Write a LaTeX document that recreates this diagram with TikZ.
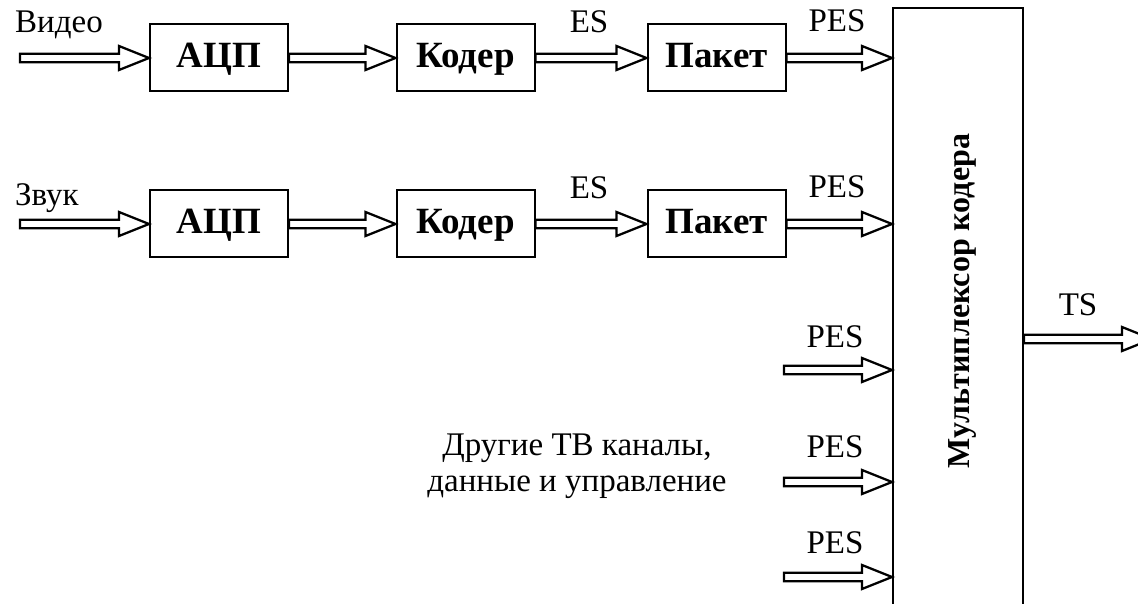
\documentclass[tikz,border=0pt]{standalone}
\usepackage{fontspec}
\setmainfont{Liberation Serif}
\usetikzlibrary{calc}

\tikzset{
  blockbox/.style={draw, line width=2pt, minimum width=138pt, minimum height=67pt,
    inner sep=0pt, text height=26pt, text depth=7pt, font=\bfseries\fontsize{37}{42}\selectfont},
  lbl/.style={inner sep=0pt, font=\fontsize{33}{36}\selectfont},
  hollowarrow/.style={draw, fill=white, line width=2.3pt, line join=miter}
}

% hollow block arrow from #1 to #2 (horizontal)
\newcommand{\hollowarrow}[2]{%
  \draw[hollowarrow] let \p1=(#1), \p2=(#2) in
    (\x1,\y1+4.2pt) -- (\x2-30pt,\y1+4.2pt) -- (\x2-30pt,\y1+12pt) -- (\x2,\y1)
    -- (\x2-30pt,\y1-12pt) -- (\x2-30pt,\y1-4.2pt) -- (\x1,\y1-4.2pt) -- cycle;}

\begin{document}
\begin{tikzpicture}[x=1pt,y=-1pt]
  \useasboundingbox[fill=white] (0,0) rectangle (1138,604);
  \def\rowa{58}
  \def\rowb{224}

  % multiplexer
  \node[draw, line width=2pt, minimum width=130pt, minimum height=640pt, inner sep=0pt] (mux) at (958,328) {};
  \node[rotate=90, inner sep=0pt, font=\bfseries\fontsize{32}{36}\selectfont] (muxlbl) at (962,301) {Мультиплексор кодера};

  % video row
  \coordinate (vin) at (20,\rowa);
  \node[blockbox] (adc1) at (219,\rowa) {АЦП};
  \node[blockbox] (cod1) at (465.5,\rowa) {Кодер};
  \node[blockbox] (pak1) at (716.5,\rowa) {Пакет};
  \node[lbl, anchor=base west] (video) at (15,33) {Видео};
  \node[lbl, anchor=base] (es1) at (589,33) {ES};
  \node[lbl, anchor=base] (pes1) at (837,32) {PES};
  \hollowarrow{vin}{adc1.west}
  \hollowarrow{adc1.east}{cod1.west}
  \hollowarrow{cod1.east}{pak1.west}
  \hollowarrow{pak1.east}{mux.west |- pak1.east}

  % audio row
  \coordinate (ain) at (20,\rowb);
  \node[blockbox] (adc2) at (219,\rowb) {АЦП};
  \node[blockbox] (cod2) at (465.5,\rowb) {Кодер};
  \node[blockbox] (pak2) at (716.5,\rowb) {Пакет};
  \node[lbl, anchor=base west] (zvuk) at (15,206) {Звук};
  \node[lbl, anchor=base] (es2) at (589,199) {ES};
  \node[lbl, anchor=base] (pes2) at (837,198) {PES};
  \hollowarrow{ain}{adc2.west}
  \hollowarrow{adc2.east}{cod2.west}
  \hollowarrow{cod2.east}{pak2.west}
  \hollowarrow{pak2.east}{mux.west |- pak2.east}

  % other inputs
  \node[lbl, align=center] (other) at (577,466) {Другие ТВ каналы,\\данные и управление};
  \coordinate (in1) at (784,370);
  \coordinate (in2) at (784,482);
  \coordinate (in3) at (784,577);
  \node[lbl, anchor=base] (pes3) at (835,347) {PES};
  \node[lbl, anchor=base] (pes4) at (835,457) {PES};
  \node[lbl, anchor=base] (pes5) at (835,553) {PES};
  \hollowarrow{in1}{mux.west |- in1}
  \hollowarrow{in2}{mux.west |- in2}
  \hollowarrow{in3}{mux.west |- in3}

  % output
  \coordinate (tsout) at (1152,339);
  \node[lbl, anchor=base] (ts) at (1078,315) {TS};
  \hollowarrow{mux.east |- tsout}{tsout}
\end{tikzpicture}
\end{document}
